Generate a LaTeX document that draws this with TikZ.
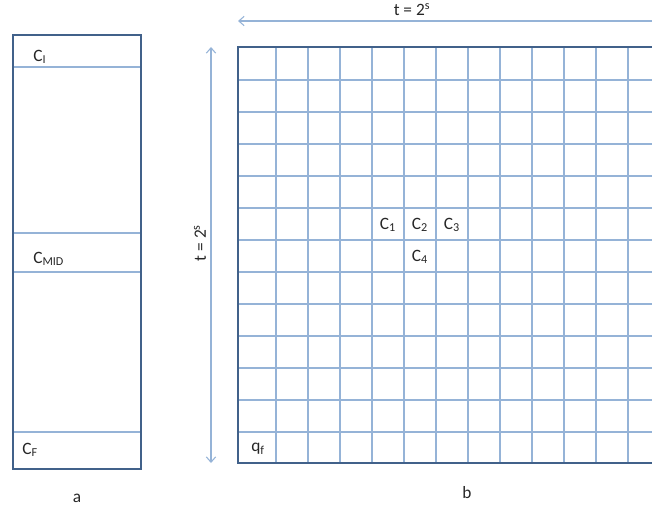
\documentclass[tikz,border=0pt]{standalone}
\usepackage{fontspec}
\setmainfont{Carlito}
\usetikzlibrary{arrows.meta,positioning}
\definecolor{frameblue}{HTML}{41618A}
\definecolor{gridblue}{HTML}{95B3D7}

\begin{document}
\begin{tikzpicture}[
      x=0.75pt, y=-0.75pt,
      lbl/.style={font=\fontsize{13}{15}\selectfont, inner sep=0pt, text=black!85},
      frm/.style={draw=frameblue, line width=1.8pt},
      gridline/.style={draw=gridblue, line width=0.8pt},
      dimarr/.style={draw=gridblue, line width=0.8pt, -{Straight Barb[length=4pt,width=7pt]}}
    ]
      \useasboundingbox (0,0) rectangle (652,510);
      \clip (0,0) rectangle (652,510);
      % column a
      \foreach \y in {67,233,272,432} \draw[gridline] (13,\y) -- (141,\y);
      \draw[frm] (13,35) rectangle (141,469);
      \node[lbl, anchor=west] (ci)   at (33,57)  {C\textsubscript{I}};
      \node[lbl, anchor=west] (cmid) at (33,259) {C\textsubscript{MID}};
      \node[lbl, anchor=west] (cf)   at (22,450) {C\textsubscript{F}};
      \node[lbl] (capa) at (77,498) {a};
      % grid b
      \foreach \x in {276,308,...,660} \draw[gridline] (\x,47) -- (\x,463);
      \foreach \y in {80,112,...,432} \draw[gridline] (238,\y) -- (700,\y);
      \draw[frm] (238,47) rectangle (700,463);
      \node[lbl] (c1) at (388,225) {C\textsubscript{1}};
      \node[lbl] (c2) at (420,225) {C\textsubscript{2}};
      \node[lbl] (c3) at (452,225) {C\textsubscript{3}};
      \node[lbl] (c4) at (420,257) {C\textsubscript{4}};
      \node[lbl] (qf) at (258,449) {q\textsubscript{f}};
      \node[lbl] (capb) at (467,493) {b};
      % sizes
      \coordinate (hr) at (670,21);
      \coordinate (hl) at (238,21);
      \coordinate (vt) at (211,47);
      \coordinate (vb) at (211,463);
      \draw[dimarr] (hr) -- (hl);
      \draw[dimarr, {Straight Barb[length=4pt,width=7pt]}-{Straight Barb[length=4pt,width=7pt]}] (vt) -- (vb);
      \node[lbl] (th) at (412,10) {t = 2\textsuperscript{s}};
      \node[lbl, rotate=90] (tv) at (200,243) {t = 2\textsuperscript{s}};
    \end{tikzpicture}
\end{document}
